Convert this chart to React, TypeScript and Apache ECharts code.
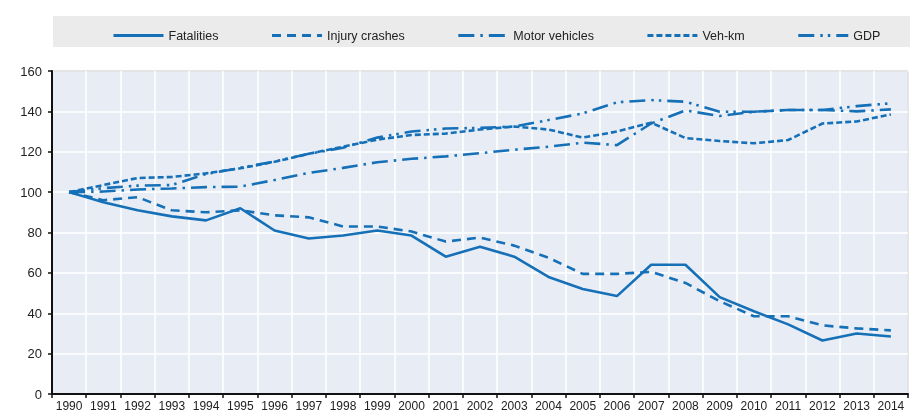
import * as echarts from 'echarts';
import { useEffect, useRef } from 'react';

const years = [
  '1990', '1991', '1992', '1993', '1994', '1995', '1996', '1997', '1998',
  '1999', '2000', '2001', '2002', '2003', '2004', '2005', '2006', '2007',
  '2008', '2009', '2010', '2011', '2012', '2013', '2014',
];

const fatalities = [
  100, 95, 91, 88, 86, 92, 81, 77, 78.5, 81, 78.5, 68, 73, 68, 58, 52, 48.5,
  64, 64, 48, 41, 34.5, 26.5, 30, 28.5,
];
const injuryCrashes = [
  100, 96, 97.5, 91, 90, 91, 88.5, 87.5, 83, 83, 80.5, 75.5, 77.5, 73.5, 67.5,
  59.5, 59.5, 60.5, 55, 46, 38.5, 38.5, 34, 32.5, 31.5,
];
const motorVehicles = [
  100, 100.3, 101.3, 101.8, 102.5, 102.7, 106, 109.5, 112, 114.8, 116.5, 117.7,
  119.3, 121, 122.5, 124.5, 123.3, 134, 140.5, 137.7, 139.8, 140.7, 140.7, 140,
  141,
];
const vehKm = [
  100, 103.5, 107, 107.5, 109.3, 111.8, 115, 119, 122.5, 126, 128.3, 129, 131,
  132.5, 131, 127, 130, 134.4, 126.8, 125.3, 124.2, 125.8, 134, 135, 138.5,
];
const gdp = [
  100, 102, 103.2, 103.5, 109, 112, 115.2, 119, 122, 127, 130, 131.5, 131.8,
  132.5, 135.7, 139, 144.5, 145.6, 144.8, 139.8, 139.8, 140.7, 140.7, 142.6,
  144,
];

const BLUE = '#1570b7';
const FONT = "'Liberation Sans', Arial, sans-serif";

const seriesDefs = [
  { name: 'Fatalities', data: fatalities, dash: 'solid' as any },
  { name: 'Injury crashes', data: injuryCrashes, dash: [9, 6] },
  { name: 'Motor vehicles', data: motorVehicles, dash: [16, 6, 2.5, 6] },
  { name: 'Veh-km', data: vehKm, dash: [6, 3] },
  { name: 'GDP', data: gdp, dash: [16, 6, 2.5, 5, 2.5, 6] },
];

export default function App() {
  const container = useRef<HTMLDivElement | null>(null);

  useEffect(() => {
    if (!container.current) return;
    const chart = echarts.init(container.current, undefined, { renderer: 'svg' });
    chart.setOption({
      animation: false,
      textStyle: { fontFamily: FONT },
      graphic: [
        {
          type: 'rect',
          z: 0,
          shape: { x: 53, y: 16, width: 857, height: 31 },
          style: { fill: '#ebebeb' },
        },
      ],
      legend: {
        left: 107,
        top: 24,
        itemWidth: 50,
        itemHeight: 14,
        itemGap: 52,
        itemStyle: { opacity: 0 },
        lineStyle: { width: 3 },
        textStyle: { fontFamily: FONT, fontSize: 12.5, color: '#222' },
        data: seriesDefs.map((s) => s.name),
      },
      grid: {
        left: 52,
        right: 14,
        top: 71,
        bottom: 22,
        show: true,
        backgroundColor: '#e8edf5',
        borderColor: '#333',
        borderWidth: 1,
      },
      xAxis: {
        type: 'category',
        data: years,
        boundaryGap: true,
        axisLine: { lineStyle: { color: '#111', width: 2 } },
        axisTick: { show: true, length: 4, lineStyle: { color: '#111', width: 1.5 } },
        axisLabel: { interval: 0, margin: 6, fontFamily: FONT, fontSize: 12, color: '#222' },
        splitLine: { show: true, interval: 0, lineStyle: { color: '#ffffff', width: 1.5 } },
      },
      yAxis: {
        type: 'value',
        min: 0,
        max: 160,
        interval: 20,
        axisLine: { show: true, lineStyle: { color: '#111', width: 2 } },
        axisTick: { show: true, length: 4, lineStyle: { color: '#111', width: 1.5 } },
        axisLabel: { margin: 10, fontFamily: FONT, fontSize: 13, color: '#222' },
        splitLine: { show: true, lineStyle: { color: '#ffffff', width: 1.5 } },
      },
      series: seriesDefs.map((s) => ({
        type: 'line',
        name: s.name,
        data: s.data,
        symbol: 'none',
        color: BLUE,
        lineStyle: { color: BLUE, width: 2.6, type: s.dash },
      })),
    } as echarts.EChartsOption);
    return () => chart.dispose();
  }, []);

  return (
    <div
      ref={container}
      style={{ position: 'fixed', left: 0, top: 0, width: 922, height: 416 }}
    />
  );
}
